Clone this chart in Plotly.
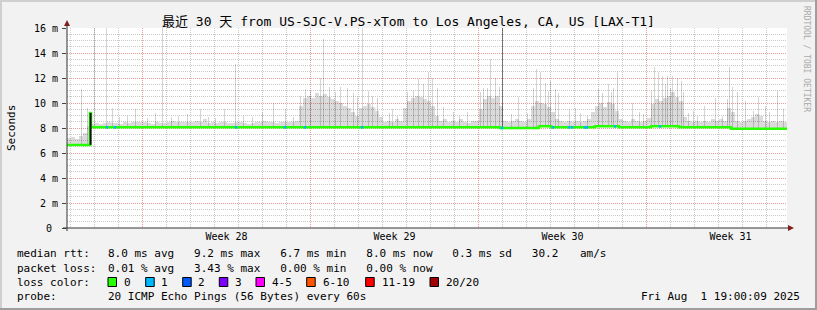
import plotly.graph_objects as go

# ---------------- data ----------------
TITLE = "最近 30 天 from US-SJC-V.PS-xTom to Los Angeles, CA, US [LAX-T1]"
HOURS = 720  # 30 days, hourly steps
BIN = 4      # smoke envelope bin width (hours)

# smoke envelope (max rtt in ms) per 4-hour bin, 6 bins per day
smoke_max = [
    7.2, 7.3, 7.1, 7.4, 7.6, 8.2,
    8.3, 8.4, 8.35, 8.4, 8.5, 8.4,
    8.4, 8.35, 8.5, 8.4, 8.45, 8.5,
    8.45, 8.5, 8.4, 8.35, 8.45, 8.4,
    8.4, 8.5, 8.6, 8.5, 8.45, 8.5,
    8.45, 8.5, 8.6, 8.5, 8.7, 8.4,
    8.5, 8.4, 8.45, 8.5, 8.4, 8.4,
    8.5, 8.45, 8.4, 8.35, 8.4, 8.45,
    8.5, 8.6, 8.45, 8.5, 8.4, 8.45,
    8.5, 8.45, 8.5, 8.6, 9.8, 10.4,
    10.6, 10.4, 10.8, 10.6, 10.7, 10.5,
    10.3, 10.2, 10.0, 9.8, 9.6, 9.3,
    9.0, 9.6, 9.8, 9.9, 9.7, 9.4,
    8.9, 8.5, 8.6, 8.5, 8.7, 8.6,
    9.6, 10.2, 10.4, 10.6, 10.5, 10.3,
    10.2, 9.8, 9.0, 8.6, 8.7, 8.5,
    8.6, 8.5, 8.7, 8.5, 8.4, 8.6,
    8.6, 9.5, 10.3, 10.6, 10.4, 10.6,
    9.8, 8.6, 8.5, 8.6, 8.7, 8.6,
    8.5, 8.7, 9.8, 10.2, 10.0, 9.9,
    9.7, 9.3, 8.7, 8.6, 8.5, 8.6,
    8.5, 8.6, 8.5, 8.6, 8.7, 9.3,
    9.8, 10.0, 9.7, 10.1, 9.9, 9.4,
    8.7, 8.6, 8.5, 8.7, 8.6, 8.5,
    8.6, 8.8, 9.9, 10.3, 10.2, 10.4,
    10.6, 10.9, 10.5, 10.2, 8.9, 8.6,
    8.5, 8.6, 8.5, 8.6, 8.5, 8.7,
    8.6, 8.7, 8.6, 9.6, 9.3, 8.6,
    8.5, 8.6, 8.7, 8.9, 9.1, 9.0,
    8.6, 8.5, 8.6, 8.5, 8.6, 8.5,
]

# single-hour spikes of the smoke (hour offset, max rtt ms)
spike_hours = [14, 20, 27.5, 39.5, 45.7, 52, 60, 68.3, 80, 88, 95.5, 104, 111, 120,
               133, 141, 148, 157, 168.7, 176, 185, 195, 206, 218, 226, 233, 238,
               243, 253, 256.3, 262, 268, 273, 280, 286, 290, 295.3, 301, 305, 310,
               322, 325, 330, 340, 346, 351, 356, 361, 365, 370, 376, 386, 392, 400,
               413, 416, 420, 423, 428, 432, 444, 451, 460, 466, 469, 473, 478, 481,
               483, 488, 491, 502, 508, 513, 520, 531, 535, 541, 544, 546, 550, 565,
               572, 576, 584, 587, 591, 595, 598, 600, 603, 605, 610, 614, 616, 621,
               626, 630, 637, 648, 655, 660, 662, 665, 670, 678, 686, 691, 698, 702,
               710, 716]
spike_values = [11.15, 9.6, 16.5, 16.5, 9.6, 8.9, 9.0, 9.5, 8.8, 9.2, 16.5, 8.9, 9.0, 9.1,
                9.5, 8.9, 8.8, 9.5, 13.1, 9.0, 8.9, 9.3, 10.0, 9.5, 8.9, 10.6, 11.1,
                11.0, 12.0, 15.1, 11.3, 10.9, 11.3, 11.2, 10.8, 10.5, 16.5, 11.0, 10.6, 10.4,
                9.2, 9.5, 9.0, 10.9, 11.0, 11.9, 11.5, 12.5, 12.0, 11.2, 9.7, 9.3, 9.0, 9.3,
                10.9, 11.2, 11.2, 13.5, 12.0, 11.3, 9.1, 10.5, 9.2, 11.2, 12.7, 12.5, 11.6, 11.0,
                11.8, 11.1, 10.8, 9.5, 9.6, 9.2, 9.0, 11.1, 10.8, 11.5, 10.9, 11.2, 12.5, 10.0,
                9.3, 9.1, 11.0, 12.9, 12.5, 12.2, 11.5, 12.2, 11.2, 12.2, 12.0, 11.8, 10.9, 9.2,
                9.4, 9.0, 9.8, 10.4, 9.0, 10.3, 12.9, 11.3, 10.9, 10.2, 9.4, 10.5, 9.8, 9.3,
                11.0, 9.5]

# one heavy spike (dark smoke)
dark_spike_hours = [435.3]
dark_spike_values = [16.5]

# median rtt (ms), step changes: hour -> value
median_hours = [0, 23, 24, 433, 472, 484, 528, 552, 584, 612, 664]
median_values = [6.65, 9.2, 8.05, 8.0, 8.13, 8.05, 8.13, 8.05, 8.13, 8.05, 7.95]

# transition hour drawn in dark smoke
transition_hour = 23.6
transition_low = 6.65
transition_high = 9.2

# hours with 1/20 packet loss
loss1_hours = [40, 48, 169, 218, 238, 295, 435, 486, 502, 505, 518, 520, 548, 593]

# axis / legend text
week_labels = ["Week 28", "Week 29", "Week 30", "Week 31"]
week_start_hours = [75, 243, 411, 579]
y_ticks = [0, 2, 4, 6, 8, 10, 12, 14, 16]
y_ticktext = ["0\u00a0", "2 m", "4 m", "6 m", "8 m", "10 m", "12 m", "14 m", "16 m"]

loss_labels = ["0", "1", "2", "3", "4-5", "6-10", "11-19", "20/20"]
loss_colors = ["#26ff00", "#00b8ff", "#0059ff", "#7e00ff", "#ff00ff", "#ff5500", "#ff0000", "#a00000"]

stats_rtt = "8.0 ms avg   9.2 ms max   6.7 ms min   8.0 ms now   0.3 ms sd   30.2"
stats_rtt_unit = "am/s"
stats_loss = "0.01 % avg   3.43 % max   0.00 % min   0.00 % now"
probe_text = "20 ICMP Echo Pings (56 Bytes) every 60s"
stamp_text = "Fri Aug  1 19:00:09 2025"

# ---------------- helpers ----------------
FONT = "DejaVu Sans Mono, Noto Sans CJK SC, monospace"
L, R, T, B = 67, 787, 28, 228
W, H = R - L, B - T


def px(xp):
    return (xp - L) / W


def py(yp):
    return (B - yp) / H


def nb(s):
    return s.replace(" ", "\u00a0")


def median_at(h):
    v = median_values[0]
    for mh, mv in zip(median_hours, median_values):
        if mh <= h:
            v = mv
    return v


fig = go.Figure()

# smoke body
body_x = [BIN * i + BIN / 2 for i in range(len(smoke_max))]
body_base = [median_at(BIN * i) - 0.08 for i in range(len(smoke_max))]
fig.add_trace(go.Bar(
    x=body_x, y=[m - b for m, b in zip(smoke_max, body_base)], base=body_base,
    width=BIN, marker=dict(color="rgba(0,0,0,0.14)", line=dict(width=0)),
    hoverinfo="skip"))

# smoke spikes
sp_base = [median_at(h) - 0.05 for h in spike_hours]
fig.add_trace(go.Bar(
    x=spike_hours, y=[v - b for v, b in zip(spike_values, sp_base)], base=sp_base,
    width=1, marker=dict(color="rgba(0,0,0,0.17)", line=dict(width=0)),
    hoverinfo="skip"))
dk_base = [median_at(h) for h in dark_spike_hours]
fig.add_trace(go.Bar(
    x=dark_spike_hours, y=[v - b for v, b in zip(dark_spike_values, dk_base)], base=dk_base,
    width=1, marker=dict(color="rgba(0,0,0,0.5)", line=dict(width=0)),
    hoverinfo="skip"))

# median line
fig.add_trace(go.Scatter(
    x=median_hours + [HOURS], y=median_values + [median_values[-1]],
    mode="lines", line=dict(color=loss_colors[0], width=2.5, shape="hv"),
    hoverinfo="skip"))

# transition in dark smoke
fig.add_trace(go.Scatter(
    x=[transition_hour, transition_hour], y=[transition_low, transition_high],
    mode="lines", line=dict(color="#111111", width=2), hoverinfo="skip"))

# loss markers
fig.add_trace(go.Scatter(
    x=loss1_hours, y=[median_at(h) for h in loss1_hours], mode="markers",
    marker=dict(symbol="square", size=2.5, color=loss_colors[1], line=dict(width=0)),
    hoverinfo="skip"))

# dummy trace for the label axis
fig.add_trace(go.Scatter(x=[0, HOURS], y=[None, None], xaxis="x2", mode="lines",
                         hoverinfo="skip"))

day_lines = [3 + 24 * k for k in range(30)]
week_centers = [w + 84.5 for w in week_start_hours]

GRID_MINOR = "#c9c9c9"
GRID_MAJOR = "#eb9a9a"

fig.update_layout(
    width=817, height=310,
    margin=dict(l=L, r=817 - R, t=T, b=310 - B, pad=0),
    paper_bgcolor="#f2f2f2", plot_bgcolor="#ffffff",
    showlegend=False, barmode="overlay", bargap=0,
    font=dict(family=FONT, size=10, color="#000000"),
    xaxis=dict(range=[0, HOURS], tickvals=week_start_hours, showticklabels=False,
               showgrid=True, gridcolor=GRID_MAJOR, griddash="1px,1px", gridwidth=1,
               zeroline=False, showline=False, ticks="", fixedrange=True,
               minor=dict(tickvals=day_lines, showgrid=True, gridcolor=GRID_MINOR,
                          griddash="1px,1px", gridwidth=1, ticks="")),
    xaxis2=dict(range=[0, HOURS], overlaying="x", anchor="y", side="bottom",
                tickvals=week_centers, ticktext=week_labels, showgrid=False,
                zeroline=False, showline=False, ticks="", ticklabelstandoff=1,
                tickfont=dict(family=FONT, size=10, color="#000000")),
    yaxis=dict(range=[0, 16], tickvals=y_ticks, ticktext=y_ticktext,
               showgrid=True, gridcolor=GRID_MAJOR, griddash="1px,1px", gridwidth=1,
               zeroline=False, showline=False, ticks="outside", ticklen=4,
               tickcolor="#444444", ticklabelstandoff=2,
               tickfont=dict(family=FONT, size=10, color="#000000"),
               minor=dict(dtick=0.5, tick0=0, showgrid=True, gridcolor=GRID_MINOR,
                          griddash="1px,1px", gridwidth=1, ticks="")),
)

shapes = []
# frame (3D shading)
shapes.append(dict(type="line", xref="paper", yref="paper", x0=px(0), x1=px(817),
                   y0=py(1), y1=py(1), line=dict(color="#cfcfcf", width=2)))
shapes.append(dict(type="line", xref="paper", yref="paper", x0=px(1), x1=px(1),
                   y0=py(0), y1=py(310), line=dict(color="#cfcfcf", width=2)))
shapes.append(dict(type="line", xref="paper", yref="paper", x0=px(0), x1=px(817),
                   y0=py(309), y1=py(309), line=dict(color="#9e9e9e", width=2)))
shapes.append(dict(type="line", xref="paper", yref="paper", x0=px(816), x1=px(816),
                   y0=py(0), y1=py(310), line=dict(color="#9e9e9e", width=2)))
# axes
shapes.append(dict(type="line", xref="paper", yref="paper", x0=px(63), x1=px(790),
                   y0=py(228), y1=py(228), line=dict(color="#333333", width=1)))
shapes.append(dict(type="line", xref="paper", yref="paper", x0=px(67), x1=px(67),
                   y0=py(231), y1=py(24), line=dict(color="#333333", width=1)))
# arrows
shapes.append(dict(type="path", xref="paper", yref="paper",
                   path=f"M {px(788)} {py(225)} L {px(794)} {py(228)} L {px(788)} {py(231)} Z",
                   fillcolor="#801f1f", line=dict(width=0)))
shapes.append(dict(type="path", xref="paper", yref="paper",
                   path=f"M {px(64)} {py(26)} L {px(67)} {py(20)} L {px(70)} {py(26)} Z",
                   fillcolor="#801f1f", line=dict(width=0)))

# loss colour boxes
box_x = [108, 145.7, 182.7, 219.3, 256, 306.7, 365.7, 430]
lab_x = [123.3, 160, 197, 234, 270.7, 321.7, 381, 445]
for bx, col in zip(box_x, loss_colors):
    shapes.append(dict(type="rect", xref="paper", yref="paper",
                       x0=px(bx), x1=px(bx + 8.5), y0=py(277.5), y1=py(286.5),
                       fillcolor=col, line=dict(color="#000000", width=1)))
fig.update_layout(shapes=shapes)

ann = []


def text(x, y, s, size=11, anchor="left", color="#000000", angle=0, yanchor="middle"):
    ann.append(dict(xref="paper", yref="paper", x=px(x), y=py(y), text=nb(s),
                    showarrow=False, xanchor=anchor, yanchor=yanchor, textangle=angle,
                    font=dict(family=FONT, size=size, color=color), borderpad=0))


text(408.5, 21, TITLE, size=13, anchor="center")
text(11, 128, "Seconds", size=11, anchor="center", angle=-90)
text(807, 59, "RRDTOOL / TOBI OETIKER", size=8, anchor="center", color="#a9a9a9", angle=90)

text(16, 254, "median rtt:")
text(107, 254, stats_rtt)
text(579, 254, stats_rtt_unit)
text(16, 268, "packet loss:")
text(107, 268, stats_loss)
text(16, 282, "loss color:")
for lx, lab in zip(lab_x, loss_labels):
    text(lx, 282, lab)
text(16, 296, "probe:")
text(107, 296, probe_text)
text(801, 296, stamp_text, anchor="right")

fig.update_layout(annotations=ann)

fig.write_html("out.html")
